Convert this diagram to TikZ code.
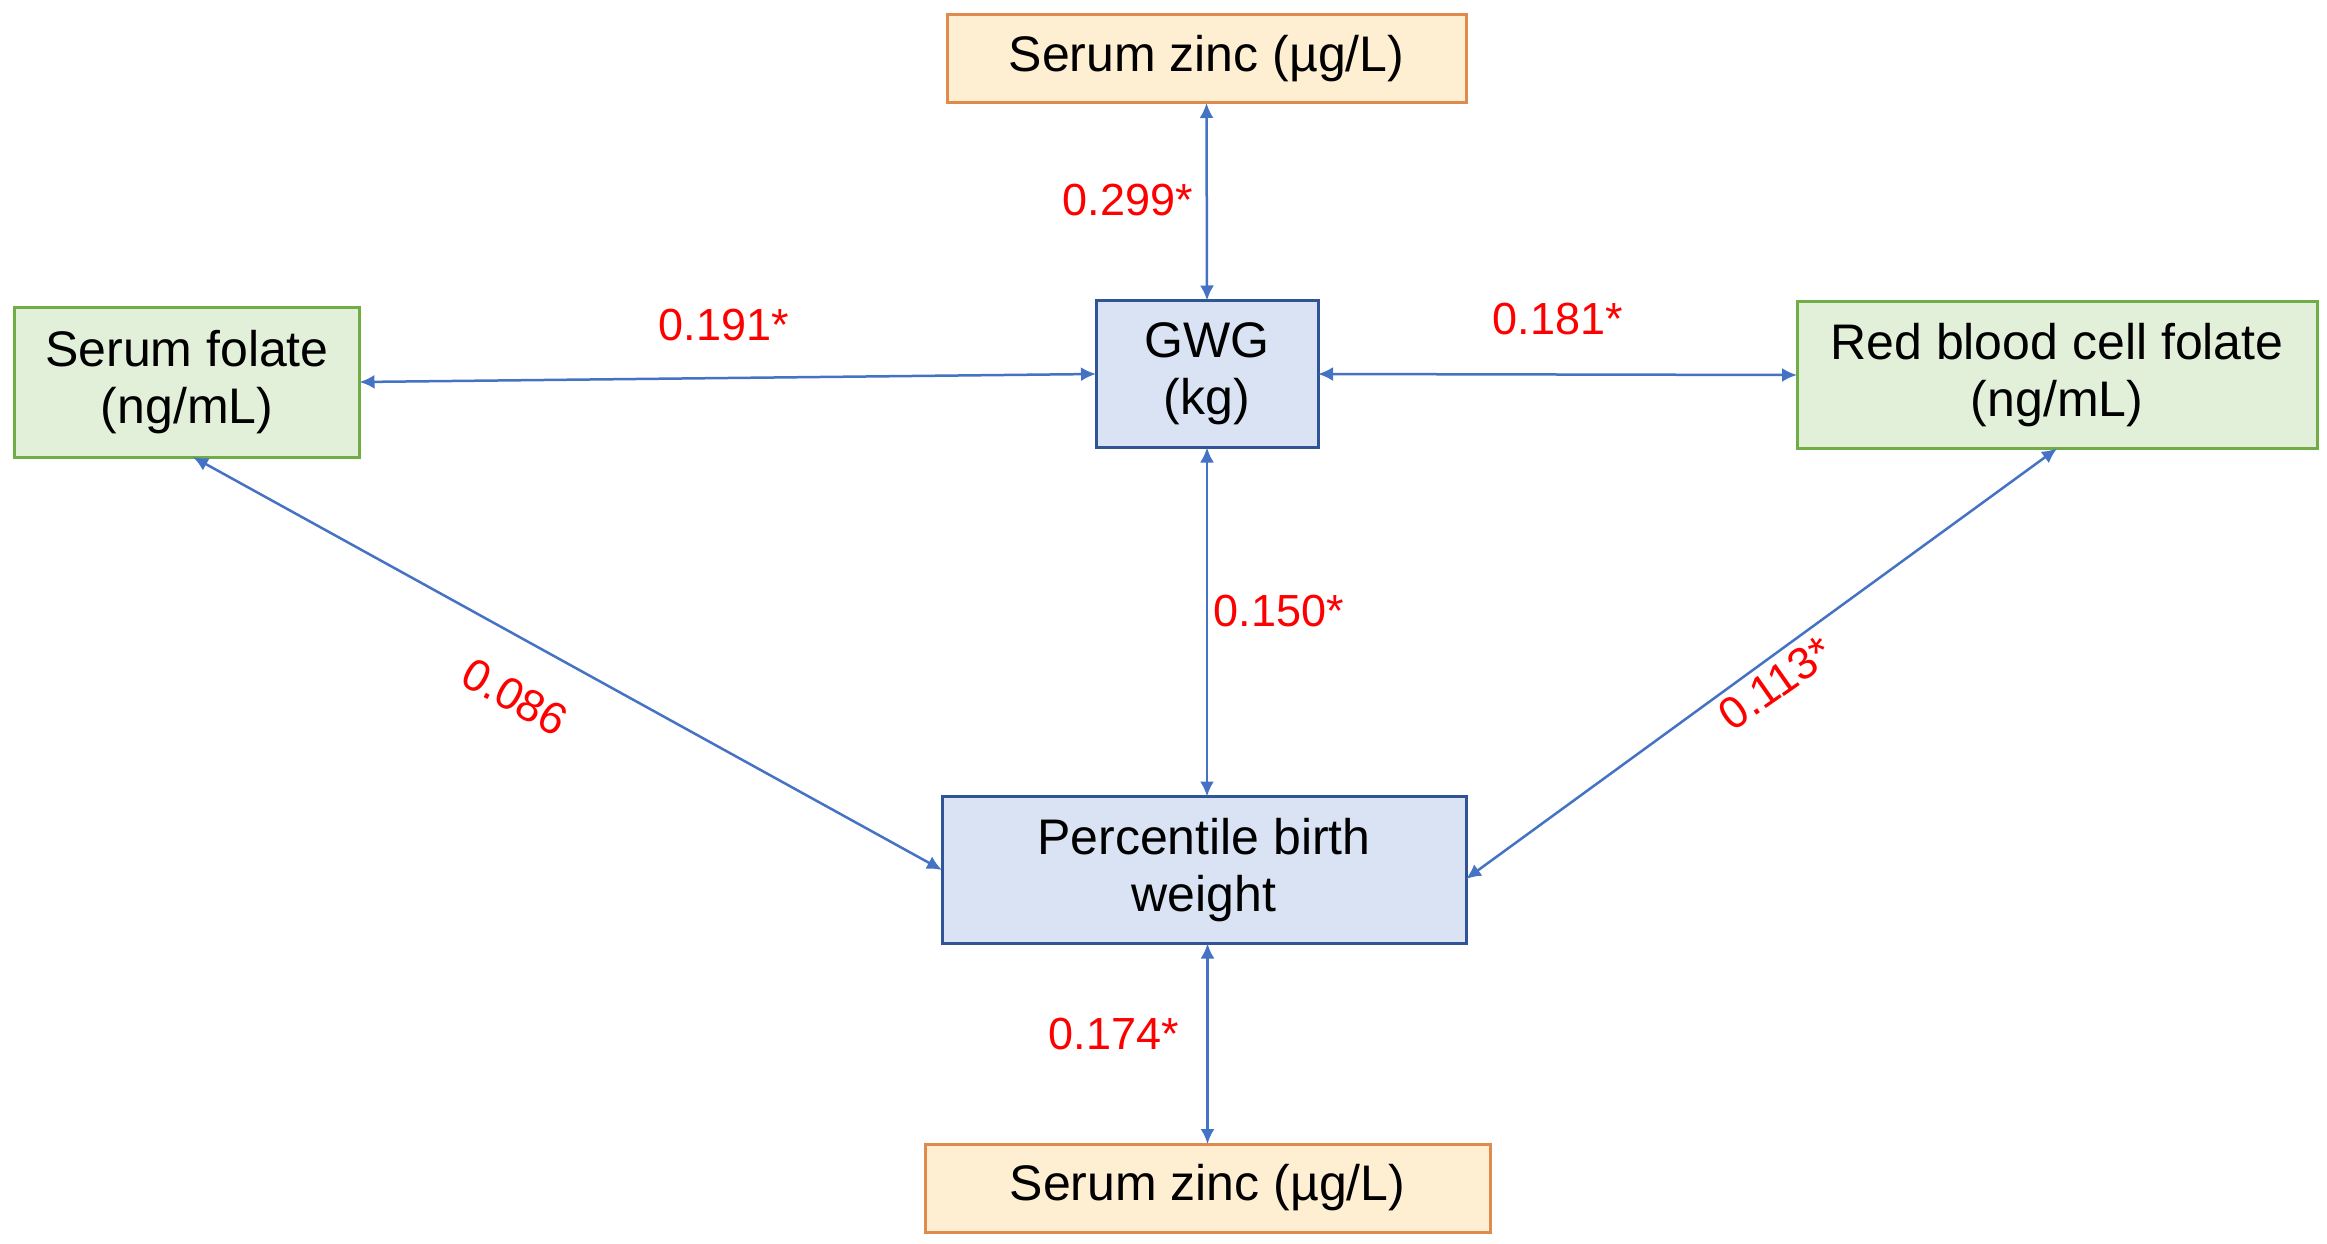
\documentclass[tikz,border=0pt]{standalone}
\usepackage{fontspec}
\setmainfont{Liberation Sans}
\usetikzlibrary{arrows.meta}
\definecolor{arrowblue}{HTML}{4472C4}
\definecolor{bluefill}{HTML}{DAE3F3}
\definecolor{blueline}{HTML}{2F5597}
\definecolor{greenfill}{HTML}{E2F0D9}
\definecolor{greenline}{HTML}{70AD47}
\definecolor{orangefill}{HTML}{FFEFD2}
\definecolor{orangeline}{HTML}{E08A4E}
\definecolor{labred}{HTML}{FF0000}
\tikzset{
  boxbase/.style={rectangle, draw, line width=3pt, inner sep=0pt, outer sep=0pt, align=center,
    font=\fontsize{50}{57}\selectfont, text=black},
  bluebox/.style={boxbase, fill=bluefill, draw=blueline},
  greenbox/.style={boxbase, fill=greenfill, draw=greenline},
  orangebox/.style={boxbase, fill=orangefill, draw=orangeline},
  link/.style={draw=arrowblue, line width=2.5pt, {Latex[length=15pt,width=14pt]}-{Latex[length=15pt,width=14pt]}},
  coef/.style={text=labred, font=\fontsize{45}{50}\selectfont, inner sep=0pt}
}
\begin{document}
\begin{tikzpicture}[x=1pt,y=-1pt]
\useasboundingbox (0,0) rectangle (2327,1244);
\node[orangebox, minimum width=519pt, minimum height=88pt] (zt) at (1206.5,59) {Serum zinc (µg/L)};
\node[bluebox, minimum width=222pt, minimum height=147pt] (gwg) at (1207,374) {GWG\\(kg)};
\node[greenbox, minimum width=345pt, minimum height=150pt] (sf) at (187,382) {Serum folate\\(ng/mL)};
\node[greenbox, minimum width=520pt, minimum height=147pt] (rbc) at (2057,375) {Red blood cell folate\\(ng/mL)};
\node[bluebox, minimum width=524pt, minimum height=147pt] (pbw) at (1204,870) {Percentile birth\\weight};
\node[orangebox, minimum width=565pt, minimum height=88pt] (zb) at (1207.5,1188) {Serum zinc (µg/L)};

\draw[link] (zt.south) -- (gwg.north);
\draw[link] (sf.east) -- (gwg.west);
\draw[link] (gwg.east) -- (rbc.west);
\draw[link] (gwg.south) -- (gwg.south |- pbw.north);
\draw[link] ([xshift=6pt]sf.south) -- (pbw.west);
\draw[link] (rbc.south) -- ([yshift=-9pt]pbw.east);
\draw[link] (pbw.south -| zb.north) -- (zb.north);

\node[coef] (l1) at (1128,200) {0.299*};
\node[coef] (l2) at (724,325) {0.191*};
\node[coef] (l3) at (1558,319) {0.181*};
\node[coef] (l4) at (1279,611) {0.150*};
\node[coef, rotate=-29] (l5) at (515,697) {0.086};
\node[coef, rotate=35] (l6) at (1776,683) {0.113*};
\node[coef] (l7) at (1114,1034) {0.174*};
\end{tikzpicture}
\end{document}
